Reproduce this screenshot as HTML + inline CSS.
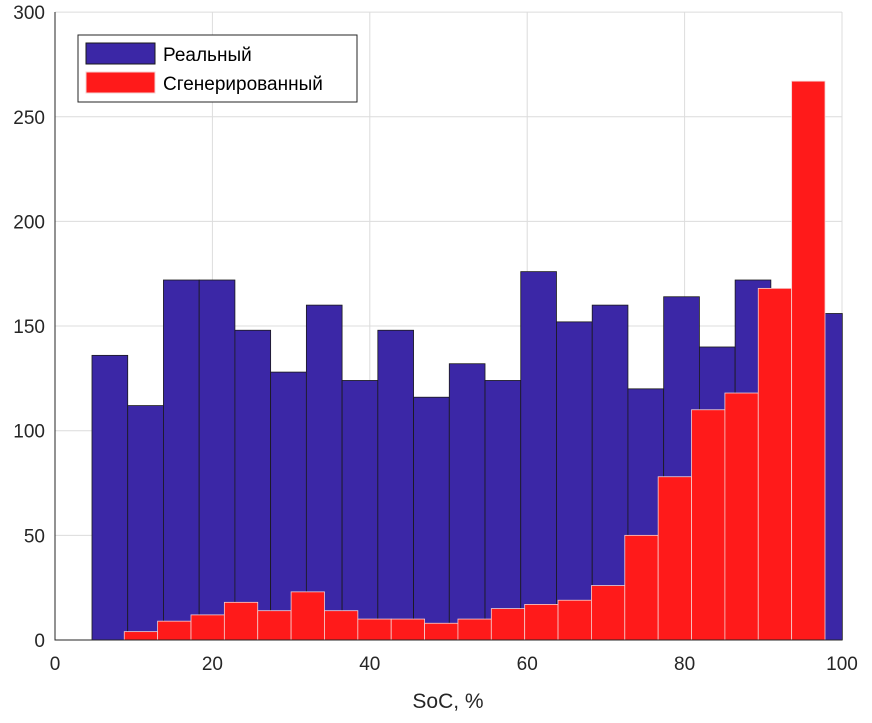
<!DOCTYPE html>
<html><head><meta charset="utf-8"><style>
body{margin:0;background:#fff;}
svg text{font-family:"Liberation Sans",sans-serif;}
</style></head><body>
<svg width="872" height="718" id="c">
</svg>
<script>
const blueStart=4.7, blueWidth=4.54;
const blueValues=[136,112,172,172,148,128,160,124,148,116,132,124,176,152,160,120,164,140,172,150,156];
const redStart=8.8, redWidth=4.24;
const redValues=[4,9,12,18,14,23,14,10,10,8,10,15,17,19,26,50,78,110,118,168,267];
const xTicks=[0,20,40,60,80,100];
const yTicks=[0,50,100,150,200,250,300];
const legendLabels=["Реальный","Сгенерированный"];
const X=v=>55+v*7.87, Y=v=>640-v*2.093;
const svg=document.getElementById('c');
const NS='http://www.w3.org/2000/svg';
function mk(t,a,p){const e=document.createElementNS(NS,t);for(const k in a)e.setAttribute(k,a[k]);(p||svg).appendChild(e);return e;}
mk('rect',{x:55,y:12,width:787,height:628,fill:'#fff'});
xTicks.forEach(t=>{const l=mk('line',{x1:X(t),x2:X(t),y1:12,y2:640,stroke:'#dcdcdc'});

const tx=mk('text',{x:X(t),y:670,'text-anchor':'middle','font-size':19,fill:'#262626'});tx.textContent=t;
});
yTicks.forEach(t=>{const l=mk('line',{x1:55,x2:842,y1:Y(t),y2:Y(t),stroke:'#dcdcdc'});

const tx=mk('text',{x:45,y:Y(t)+7,'text-anchor':'end','font-size':19,fill:'#262626'});tx.textContent=t;
});
blueValues.forEach((v,i)=>{const r=mk('rect',{x:X(blueStart+i*blueWidth),y:Y(v),width:blueWidth*7.87,height:Y(0)-Y(v),fill:'#3b27a6',stroke:'#1a1a1a','stroke-width':0.8});
});
redValues.forEach((v,i)=>{const r=mk('rect',{x:X(redStart+i*redWidth),y:Y(v),width:redWidth*7.87,height:Y(0)-Y(v),fill:'#ff1a1a',stroke:'#f5d0d0','stroke-width':0.8});
});
const ax=mk('path',{d:'M55 12V640H842',fill:'none',stroke:'#262626','stroke-width':1});

const xt=mk('text',{x:448,y:708,'text-anchor':'middle','font-size':21,fill:'#262626'});xt.textContent='SoC, %';

const lg=mk('g',{});
mk('rect',{x:78,y:35,width:279,height:67,fill:'#fff',stroke:'#262626'},lg);
const cols=['#3b27a6','#ff1a1a'];
legendLabels.forEach((s,i)=>{const g=mk('g',{},lg);
mk('rect',{x:86,y:43+i*29,width:69,height:21,fill:cols[i],stroke:i?'#f5d0d0':'#1a1a1a'},g);
const t=mk('text',{x:163,y:61+i*29,'font-size':19,fill:'#000'},g);t.textContent=s;});
</script>
</body></html>
